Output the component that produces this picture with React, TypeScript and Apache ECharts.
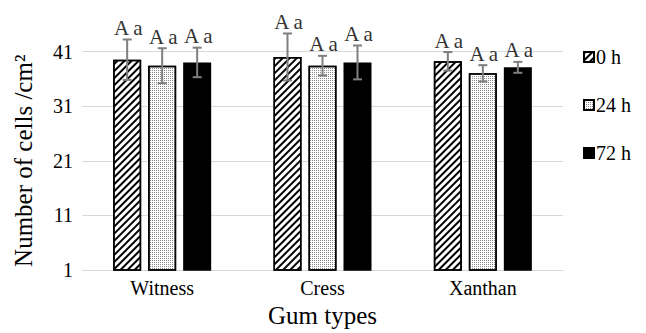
import React, { useEffect, useRef } from "react";
import * as echarts from "echarts";

const categories = ["Witness", "Cress", "Xanthan"];
const seriesNames = ["0 h", "24 h", "72 h"];
const means0h = [39.5, 40.0, 39.2];
const means24h = [38.4, 38.4, 37.0];
const means72h = [39.0, 39.0, 38.1];
const sd0h = [3.7, 4.3, 1.7];
const sd24h = [3.2, 1.8, 1.5];
const sd72h = [2.7, 3.1, 1.0];
const letters = [
  ["A a", "A a", "A a"],
  ["A a", "A a", "A a"],
  ["A a", "A a", "A a"],
];
const yTicks = { min: 1, max: 41, interval: 10 };

const FONT = "Liberation Serif";

export default function App() {
  const ref = useRef<HTMLDivElement>(null);
  useEffect(() => {
    if (!ref.current) return;
    const chart = echarts.init(ref.current, undefined, { renderer: "svg" });
    const means = [means0h, means24h, means72h];
    const sds = [sd0h, sd24h, sd72h];
    const errData: number[][] = [];
    for (let j = 0; j < 3; j++) {
      for (let i = 0; i < categories.length; i++) {
        errData.push([i, j, means[j][i], sds[j][i]]);
      }
    }
    const BAR_W = 28;
    const STEP = 35;
    const decals: any[] = [
      {
        symbol: "rect",
        symbolSize: 1,
        color: "#000",
        backgroundColor: "#fff",
        dashArrayX: [1, 0],
        dashArrayY: [2, 3],
        rotation: -Math.PI / 4,
      },
      {
        symbol: "rect",
        symbolSize: 1,
        color: "#888",
        backgroundColor: "#fff",
        dashArrayX: [1, 1],
        dashArrayY: [1, 1],
        rotation: 0,
      },
      null,
    ];
    const fills = ["#fff", "#fff", "#000"];
    const barSeries = seriesNames.map((name, j) => ({
      name,
      type: "bar",
      data: means[j],
      barWidth: BAR_W,
      barGap: "25%",
      itemStyle: {
        color: fills[j],
        borderColor: "#000",
        borderWidth: 1.5,
        ...(decals[j] ? { decal: decals[j] } : {}),
      },
    }));
    chart.setOption({
      animation: false,
      textStyle: { fontFamily: FONT, color: "#000" },
      grid: { left: 82, right: 83, top: 51.5, bottom: 61.5, containLabel: false },
      legend: {
        orient: "vertical",
        left: 583,
        top: 47,
        padding: 0,
        itemWidth: 10,
        itemHeight: 10,
        itemGap: 28,
        data: seriesNames,
        textStyle: { fontFamily: FONT, fontSize: 20, color: "#000", lineHeight: 20, padding: [0, 0, 0, -3] },
        icon: "rect",
      },
      xAxis: {
        type: "category",
        data: categories,
        name: "Gum types",
        nameLocation: "middle",
        nameGap: 33,
        nameTextStyle: { fontFamily: FONT, fontSize: 25, color: "#000" },
        axisLine: { lineStyle: { color: "#d9d9d9", width: 1 } },
        axisTick: { show: false },
        axisLabel: { fontFamily: FONT, fontSize: 20, color: "#000", margin: 8 },
      },
      yAxis: {
        type: "value",
        min: yTicks.min,
        max: yTicks.max,
        interval: yTicks.interval,
        name: "Number of cells /cm²",
        nameLocation: "middle",
        nameGap: 46,
        nameTextStyle: { fontFamily: FONT, fontSize: 25, color: "#000" },
        axisLine: { show: false },
        axisTick: { show: false },
        splitLine: { lineStyle: { color: "#d9d9d9", width: 1 } },
        axisLabel: { fontFamily: FONT, fontSize: 20, color: "#000", margin: 9 },
      },
      series: [
        ...barSeries,
        {
          type: "custom",
          name: "err",
          data: errData,
          encode: { x: 0, y: 2 },
          z: 10,
          renderItem: (params: any, api: any) => {
            const ci = api.value(0);
            const j = api.value(1);
            const m = api.value(2);
            const s = api.value(3);
            const top = api.coord([ci, m + s]);
            const bot = api.coord([ci, m - s]);
            const x = top[0] + (j - 1) * STEP;
            const cap = 4.5;
            const st = { stroke: "#7f7f7f", lineWidth: 2 };
            return {
              type: "group",
              children: [
                { type: "line", shape: { x1: x, y1: top[1], x2: x, y2: bot[1] }, style: st },
                { type: "line", shape: { x1: x - cap, y1: top[1], x2: x + cap, y2: top[1] }, style: st },
                { type: "line", shape: { x1: x - cap, y1: bot[1], x2: x + cap, y2: bot[1] }, style: st },
                {
                  type: "text",
                  x: x + 1,
                  y: top[1] - 1,
                  style: {
                    text: letters[j][ci],
                    fontFamily: FONT,
                    fontSize: 21,
                    fill: "#333",
                    align: "center",
                    verticalAlign: "bottom",
                  },
                },
              ],
            };
          },
        },
      ],
    });
    return () => chart.dispose();
  }, []);
  return (
    <div
      ref={ref}
      style={{ position: "absolute", left: 0, top: 0, width: 646, height: 333 }}
    />
  );
}
